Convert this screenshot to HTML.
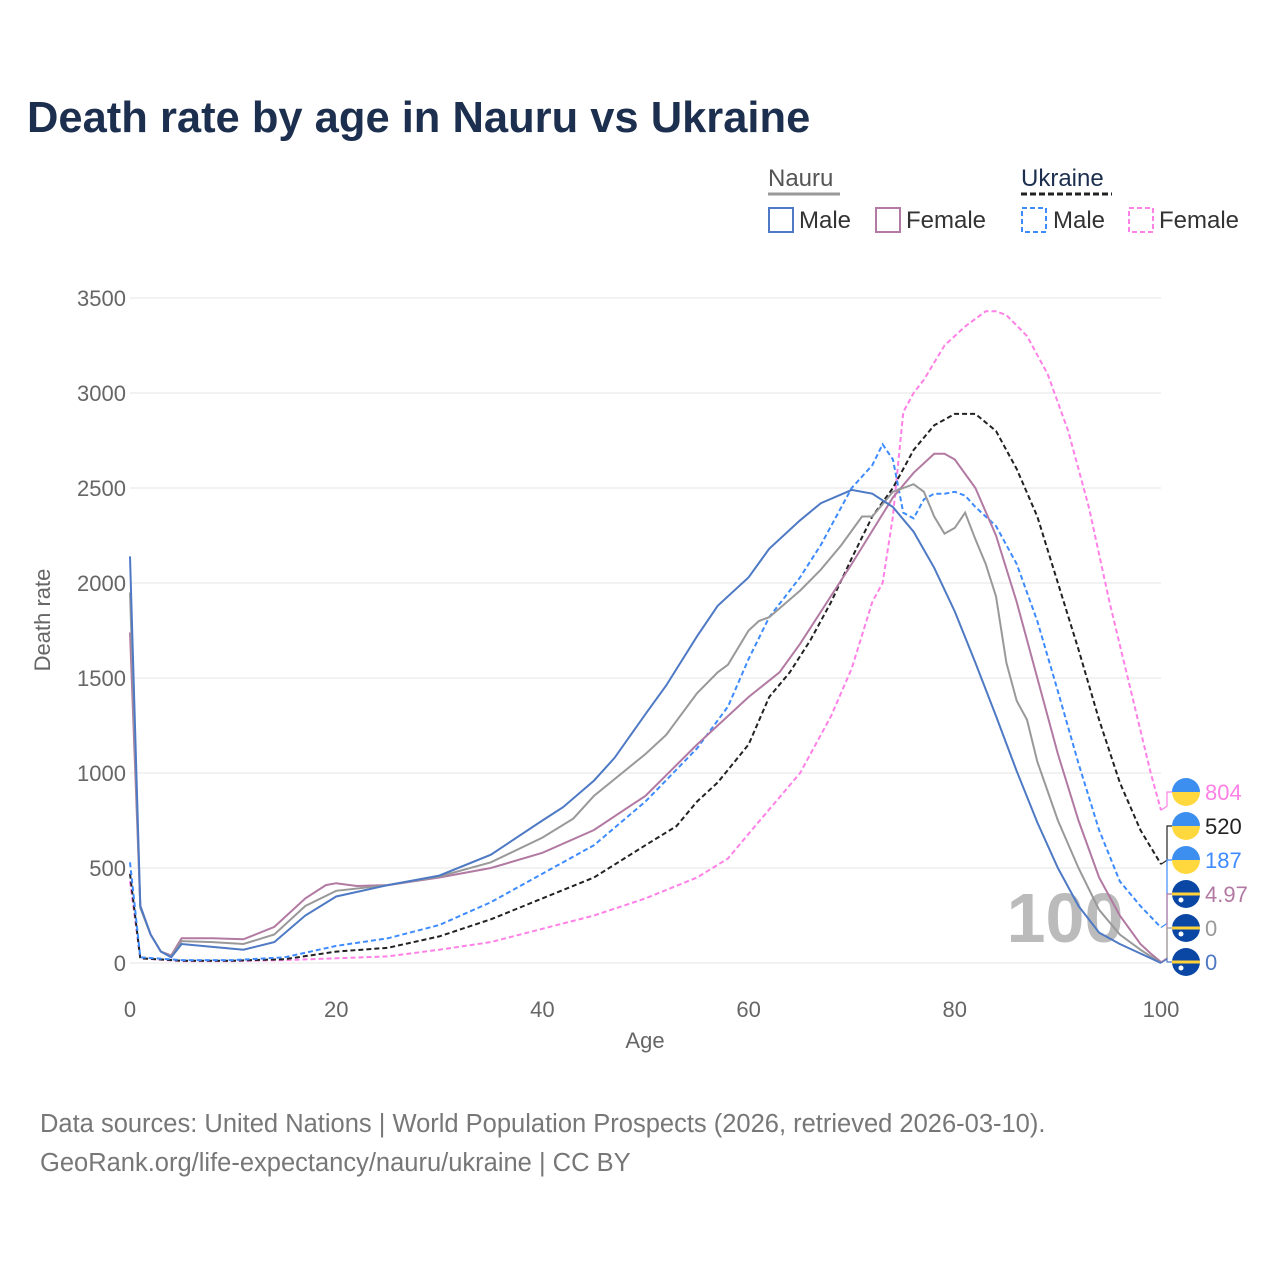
<!DOCTYPE html>
<html><head><meta charset="utf-8"><style>
body{margin:0;background:#fff;font-family:"Liberation Sans",sans-serif}
</style></head><body>
<svg id="chart" width="1280" height="1280" style="font-family:'Liberation Sans',sans-serif">
<text x="27" y="132" font-size="43.5" font-weight="bold" fill="#1c2f4e">Death rate by age in Nauru vs Ukraine</text>
<g font-size="24" fill="#333">
<text x="768" y="186" fill="#555">Nauru</text>
<line x1="768" y1="194" x2="840" y2="194" stroke="#999" stroke-width="3"/>
<text x="1021" y="186" fill="#1c2f4e">Ukraine</text>
<line x1="1021" y1="194" x2="1112" y2="194" stroke="#222" stroke-width="3" stroke-dasharray="6,3"/>
<rect x="769" y="208" width="24" height="24" fill="none" stroke="#4e79c4" stroke-width="2"/>
<text x="799" y="228">Male</text>
<rect x="876" y="208" width="24" height="24" fill="none" stroke="#b279a2" stroke-width="2"/>
<text x="906" y="228">Female</text>
<rect x="1022" y="208" width="24" height="24" fill="none" stroke="#3d8bff" stroke-width="2" stroke-dasharray="5,3"/>
<text x="1053" y="228">Male</text>
<rect x="1129" y="208" width="24" height="24" fill="none" stroke="#ff80e6" stroke-width="2" stroke-dasharray="5,3"/>
<text x="1159" y="228">Female</text>
</g>
<g id="grid"></g>
<text x="1065" y="942" font-size="70" font-weight="bold" fill="#bbb" text-anchor="middle">100</text>
<g id="series"></g>
<g id="labels"></g>
<text x="645" y="1048" font-size="22" fill="#666" text-anchor="middle">Age</text>
<text transform="translate(50,620) rotate(-90)" font-size="22" fill="#666" text-anchor="middle">Death rate</text>
<text x="40" y="1132" font-size="25.5" fill="#777">Data sources: United Nations | World Population Prospects (2026, retrieved 2026-03-10).</text>
<text x="40" y="1171" font-size="25.5" fill="#777">GeoRank.org/life-expectancy/nauru/ukraine | CC BY</text>
</svg>
<script>
const yTicks=[0,500,1000,1500,2000,2500,3000,3500];
const xTicks=[0,20,40,60,80,100];
const nmAges=[0,1,2,3,4,5,8,11,14,17,20,25,30,35,40,42,45,47,50,52,55,57,60,62,65,67,70,72,74,76,78,80,82,84,86,88,90,92,94,96,98,100];
const nmVals=[2140,300,150,60,30,100,85,70,110,250,350,410,460,570,750,820,960,1080,1310,1460,1720,1880,2030,2180,2330,2420,2490,2470,2400,2270,2080,1850,1580,1300,1010,740,500,300,160,100,50,0];
const nfAges=[0,1,2,3,4,5,8,11,14,17,19,20,22,25,30,35,40,45,50,55,60,63,65,70,74,76,78,79,80,82,84,86,88,90,92,94,96,98,99,100];
const nfVals=[1740,300,150,60,40,130,130,125,190,340,410,420,405,410,450,500,580,700,880,1150,1400,1530,1680,2100,2450,2580,2680,2680,2650,2500,2250,1900,1500,1100,750,450,250,100,50,5];
const ntAges=[0,1,2,3,4,5,8,11,14,17,20,25,30,35,40,43,45,50,52,55,57,58,60,61,62,65,67,69,71,72,74,76,77,78,79,80,81,82,83,84,85,86,87,88,90,92,94,96,98,100];
const ntVals=[1950,290,150,60,35,115,110,100,150,300,380,410,455,530,660,760,880,1100,1200,1420,1530,1570,1750,1800,1820,1960,2070,2200,2350,2350,2480,2520,2480,2350,2260,2290,2370,2230,2100,1930,1580,1380,1280,1060,750,500,280,150,70,0];
const umAges=[0,1,5,10,15,20,25,30,35,40,45,50,55,58,60,62,65,67,69,70,72,73,74,75,76,77,78,79,80,81,82,84,86,88,90,92,94,96,98,100];
const umVals=[530,30,15,15,30,90,130,200,320,470,620,850,1130,1350,1600,1820,2030,2200,2400,2500,2620,2730,2650,2370,2340,2440,2470,2470,2480,2460,2400,2300,2100,1800,1430,1050,700,430,300,187];
const utAges=[0,1,5,10,15,20,25,30,35,40,45,50,53,55,57,60,62,64,66,68,70,72,74,76,78,80,82,84,86,88,90,92,94,96,98,100];
const utVals=[470,25,12,12,20,60,80,140,230,340,450,620,720,850,950,1150,1400,1530,1700,1900,2130,2350,2500,2700,2830,2890,2890,2800,2600,2350,2000,1650,1280,950,700,520];
const ufAges=[0,1,5,10,15,20,25,30,35,40,45,50,55,58,60,65,68,70,72,73,74,75,76,77,79,81,83,84,85,87,89,91,93,95,97,99,100];
const ufVals=[430,25,10,10,15,25,35,70,110,180,250,340,450,550,680,1000,1300,1550,1900,2000,2350,2900,3000,3070,3250,3350,3430,3430,3410,3300,3100,2800,2400,1900,1450,1000,804];
const endLabels=["804","520","187","4.97","0","0"];
const NS="http://www.w3.org/2000/svg";
const X=a=>130+a*10.31, Y=v=>963-v*0.19;
function mk(t,p,at){const e=document.createElementNS(NS,t);for(const k in at)e.setAttribute(k,at[k]);p.appendChild(e);return e;}
const grid=document.getElementById('grid');
yTicks.forEach(v=>{
 const l=mk('line',grid,{x1:130,x2:1161,y1:Y(v),y2:Y(v),stroke:'#e6e6e6','stroke-width':1});
 
 
 const t=mk('text',grid,{x:126,y:Y(v)+8,'font-size':22,fill:'#666','text-anchor':'end'});
 t.textContent=v;
 
 
});
xTicks.forEach(a=>{
 const t=mk('text',grid,{x:X(a),y:1017,'font-size':22,fill:'#666','text-anchor':'middle'});
 t.textContent=a;
 
 
});
const ser=document.getElementById('series');
const defs=[
 [ufAges,ufVals,'#ff80e6','5,3','ukraine-female-line'],
 [utAges,utVals,'#222','5,3','ukraine-total-line'],
 [umAges,umVals,'#3d8bff','5,3','ukraine-male-line'],
 [nfAges,nfVals,'#b279a2',null,'nauru-female-line'],
 [ntAges,ntVals,'#999',null,'nauru-total-line'],
 [nmAges,nmVals,'#4e79c4',null,'nauru-male-line']];
const ends=[];
defs.forEach(d=>{
 const pts=d[0].map((a,i)=>X(a).toFixed(1)+','+Y(d[1][i]).toFixed(1)).join(' ');
 const at={points:pts,fill:'none',stroke:d[2],'stroke-width':2};
 if(d[3])at['stroke-dasharray']=d[3];
 const p=mk('polyline',ser,at);
 
 
 ends.push([Y(d[1][d[1].length-1]),d[2]]);
});
const lab=document.getElementById('labels');
const flags=['ua','ua','ua','nr','nr','nr'];
ends.forEach((e,i)=>{
 const ly=792+i*34;
 const c=mk('polyline',lab,{points:`1161,${e[0]} 1167,${e[0]-4} 1167,${ly} 1172,${ly}`,fill:'none',stroke:e[1],'stroke-width':1.2});
 
 
 const g=mk('g',lab,{});
 
 
 if(flags[i]=='ua'){
  mk('path',g,{d:`M1172,${ly} a14,14 0 0 1 28,0z`,fill:'#3d8fef'});
  mk('path',g,{d:`M1172,${ly} a14,14 0 0 0 28,0z`,fill:'#ffd83d'});
 }else{
  mk('circle',g,{cx:1186,cy:ly,r:14,fill:'#0a47a5'});
  mk('rect',g,{x:1172,y:ly-1.5,width:28,height:3,fill:'#ffd23a'});
  mk('circle',g,{cx:1181,cy:ly+6,r:2.5,fill:'#fff'});
 }
 const t=mk('text',lab,{x:1205,y:ly+8,'font-size':22,fill:e[1]});
 t.textContent=endLabels[i];
 
 
});
</script>
</body></html>
